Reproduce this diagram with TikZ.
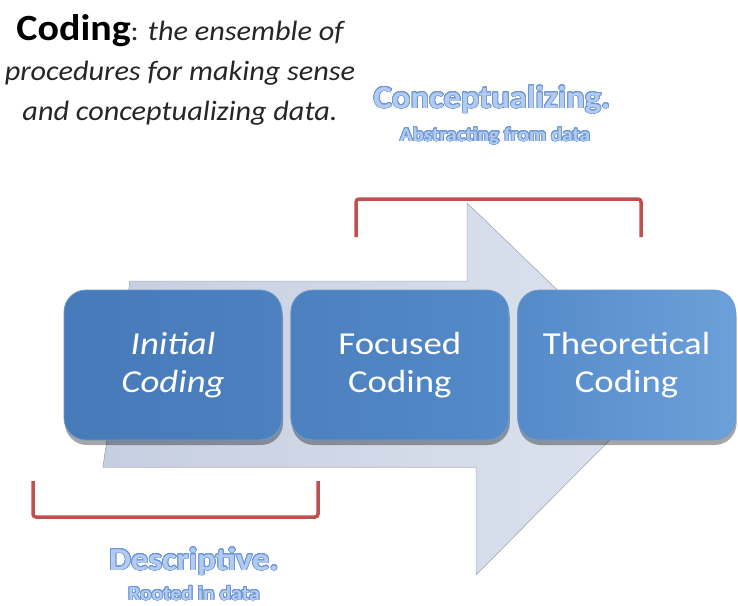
\documentclass[tikz,border=0pt]{standalone}
\usepackage{fontspec}
\setmainfont{Carlito}[FakeStretch=1.08]
\newfontfamily\stagefont{Carlito}[FakeStretch=1.15]
\usepackage{xcolor}
\usepackage{contour}
\usepackage{tikz}
\usetikzlibrary{shapes,arrows.meta,positioning,shadows}
\contourlength{0.7pt}
\contournumber{32}
\definecolor{boxrim}{HTML}{6E9AD2}
\definecolor{bracketred}{HTML}{C0504D}
\definecolor{lblfill}{HTML}{B3CBF0}
\definecolor{lblline}{HTML}{6D97D6}
\definecolor{arrowleft}{HTML}{C6CFE1}
\definecolor{arrowright}{HTML}{DDE3EF}
\definecolor{blueA}{RGB}{71,122,184}
\definecolor{blueB}{RGB}{76,128,190}
\definecolor{blueC}{RGB}{84,138,200}
\definecolor{blueD}{RGB}{108,160,218}

\begin{document}
\begin{tikzpicture}
  [
    x=1pt, y=-1pt,
    Stage/.style={rectangle, rounded corners=22pt, minimum width=218pt, minimum height=150pt, inner sep=0pt, text=white, align=center, font=\stagefont\fontsize{32}{38}\selectfont, draw=boxrim, line width=0.8pt, drop shadow={shadow xshift=1pt, shadow yshift=-5pt, opacity=0.35, fill=black}},
    Bracket/.style={draw=bracketred, line width=3.5pt, rounded corners=3pt},
    Label/.style={inner sep=0pt, anchor=base, text=lblfill, font=\bfseries\fontsize{32}{36}\selectfont},
    SubLabel/.style={inner sep=0pt, anchor=base, text=lblfill, font=\bfseries\fontsize{19.5}{22}\selectfont}
  ]
  \useasboundingbox (0,0) rectangle (738,605);

  % Big arrow
  \path [fill, left color=arrowleft, right color=arrowright, draw=arrowleft!85!black, line width=0.5pt]
    (130,281) -- (467,281) -- (467,203) -- (660,389) -- (476,575) -- (476,467) -- (103,467) -- cycle;

  % Nodes
  \node[Stage, font=\stagefont\itshape\fontsize{32}{38}\selectfont, left color=blueA, right color=blueB] (initial) at (173,365) {Initial\\Coding};
  \node[Stage, left color=blueB, right color=blueC, right=8pt of initial] (focused) {Focused\\Coding};
  \node[Stage, left color=blueC, right color=blueD, right=8pt of focused] (theoretical) {Theoretical\\Coding};

  \node[inner sep=0pt, anchor=base, align=center, font=\fontsize{28}{40}\selectfont, text=black!85] (title) at (180,120)
    {{\bfseries\fontsize{37}{40}\selectfont\color{black}Coding}: \itshape the ensemble of\\\itshape procedures for making sense\\\itshape and conceptualizing data.};

  \node[Label] (concept) at (492,108) {\contour{lblline}{Conceptualizing.}};
  \node[SubLabel] (conceptsub) at (495,141) {\contour{lblline}{Abstracting from data}};
  \node[Label] (descr) at (194,570) {\contour{lblline}{Descriptive.}};
  \node[SubLabel, font=\bfseries\fontsize{20}{22}\selectfont] (descrsub) at (194,600) {\contour{lblline}{Rooted in data}};

  % Brackets
  \coordinate (c1) at (356,237);
  \coordinate (c2) at (641,237);
  \coordinate (d1) at (33,481);
  \coordinate (d2) at (318,481);
  \path [Bracket] (c1) -- (356,199) -- (641,199) -- (c2);
  \path [Bracket] (d1) -- (33,517) -- (318,517) -- (d2);

\end{tikzpicture}
\end{document}
